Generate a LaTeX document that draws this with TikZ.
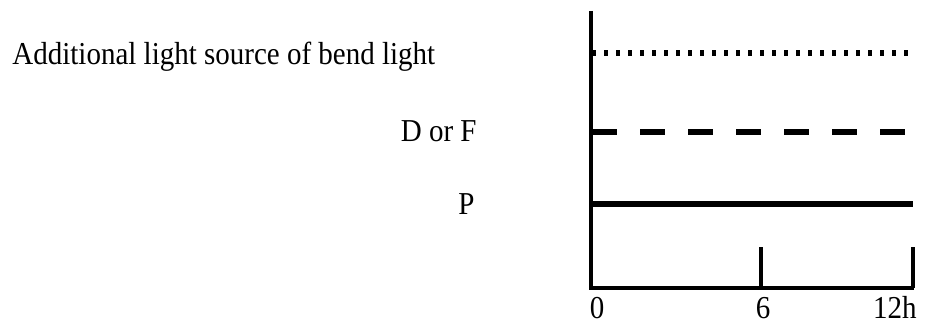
\documentclass[tikz,border=0pt]{standalone}
\usepackage{fontspec}
\setmainfont{Liberation Serif}
\usepackage{graphicx}
\usepackage{tikz}
\usetikzlibrary{positioning}
\newcommand{\tallText}[1]{\scalebox{1}[1.1]{#1}}
\tikzset{
  axisline/.style={line width=1.6pt,draw=black},
  lamp/.style={line width=3pt,draw=black},
  bendlamp/.style={lamp,dash pattern=on 2.2pt off 3.8pt},
  dflamp/.style={lamp,dash pattern=on 12.5pt off 11.5pt},
  tag/.style={inner sep=0pt,font=\fontsize{14.5}{17}\selectfont}
}
\begin{document}
\begin{tikzpicture}[x=0.5pt,y=-0.5pt]
  \useasboundingbox (0,0) rectangle (935,324);
  % axes
  \coordinate (top) at (591,11);
  \coordinate (origin) at (591,288);
  \coordinate (six) at (761,288);
  \coordinate (twelve) at (913,288);
  \coordinate (xend) at (914,288);
  \draw[axisline] (top)--(origin)--(xend);
  \draw[axisline] (six)--++(0,-41); \draw[axisline] (twelve)--++(0,-41);
  % lamp rows
  \coordinate (bendA) at (592,53);  \coordinate (bendB) at (913,53);
  \coordinate (dfA) at (592,132);   \coordinate (dfB) at (908,132);
  \coordinate (pA) at (592,204);    \coordinate (pB) at (913,204);
  \draw[bendlamp] (bendA)--(bendB);
  \draw[dflamp] (dfA)--(dfB);
  \draw[lamp] (pA)--(pB);
  % labels
  \node[tag,anchor=base west] (bendLbl) at (12,65) {\tallText{Additional light source of bend light}};
  \node[tag,anchor=base east] (dfLbl) at (477,142) {\tallText{D or F}};
  \node[tag,anchor=base east] (pLbl) at (475,215) {\tallText{P}};
  \node[tag,anchor=base] (zeroLbl) at (597,319) {\tallText{0}};
  \node[tag,anchor=base] (sixLbl) at (763,319) {\tallText{6}};
  \node[tag,anchor=base east] (twelveLbl) at (917,319) {\tallText{12h}};
\end{tikzpicture}
\end{document}
